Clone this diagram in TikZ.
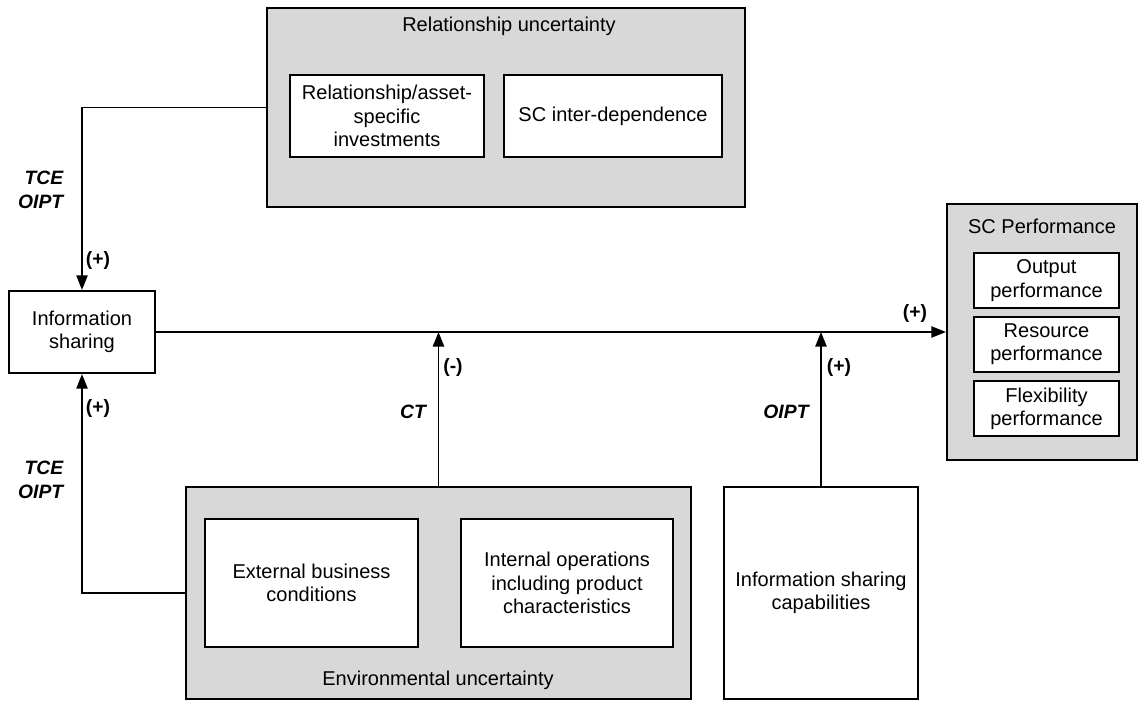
\documentclass[tikz,border=0pt]{standalone}
\usepackage{fontspec}
\setmainfont{Liberation Sans}
\usepackage{tikz}
\usepackage{xcolor}
\usetikzlibrary{positioning, arrows.meta}
\definecolor{boxgray}{RGB}{216,216,216}
\tikzset{
  group/.style={draw, fill=boxgray, line width=1.6pt, inner sep=0pt},
  item/.style={draw, fill=white, line width=1.6pt, inner sep=0pt, align=center,
    font=\fontsize{15}{17.5}\selectfont},
  txt/.style={font=\fontsize{15}{17.5}\selectfont, align=center},
  conn/.style={line width=1.2pt, -{Triangle[length=11pt,width=8.5pt]}},
  sign/.style={font=\fontsize{14.5}{17}\selectfont\bfseries},
  theory/.style={font=\fontsize{14.5}{18}\selectfont\bfseries\itshape, align=right}
}

\begin{document}
\begin{tikzpicture}[x=0.75pt,y=-0.75pt]
\useasboundingbox (0,0) rectangle (1139,700);

% relationship uncertainty
\node[group, minimum width=358.5pt, minimum height=149.25pt] (rel) at (506,107.5) {};
\node[txt] (reltitle) at (509,26) {Relationship uncertainty};
\node[item, minimum width=145.5pt, minimum height=61.5pt] (asset) at (387,116)
  {Relationship/asset-\\specific\\investments};
\node[item, minimum width=163.5pt, minimum height=61.5pt] (interdep) at (613,116)
  {SC inter-dependence};

% information sharing
\node[item, minimum width=109.5pt, minimum height=61.5pt] (info) at (82,332)
  {Information\\sharing};

% environmental uncertainty
\node[group, minimum width=378.75pt, minimum height=159pt] (env) at (438.5,593) {};
\node[item, minimum width=159.75pt, minimum height=96pt] (extern) at (311.5,583)
  {External business\\conditions};
\node[item, minimum width=159pt, minimum height=96pt] (intern) at (567,583)
  {Internal operations\\including product\\characteristics};
\node[txt] (envtitle) at (438,680) {Environmental uncertainty};

% capabilities
\node[item, minimum width=145.5pt, minimum height=159pt] (cap) at (821,593)
  {Information sharing\\capabilities};

% SC performance
\node[group, minimum width=142.5pt, minimum height=192pt] (perf) at (1042,332) {};
\node[txt] (perftitle) at (1042,226) {SC Performance};
\node[item, minimum width=108.75pt, minimum height=41.25pt] (output) at (1046.5,280.5)
  {Output\\performance};
\node[item, minimum width=108.75pt, minimum height=41.25pt] (resource) at (1046.5,344.5)
  {Resource\\performance};
\node[item, minimum width=108.75pt, minimum height=41.25pt] (flex) at (1046.5,408.5)
  {Flexibility\\performance};

% connectors
\coordinate (ctjoin) at (env.north |- info.east);
\coordinate (capjoin) at (cap.north |- info.east);
\draw[conn] (rel.west) -| (info.north);
\draw[conn] (env.west) -| (info.south);
\draw[conn] (info.east) -- (info.east -| perf.west);
\draw[conn] (env.north) -- (ctjoin);
\draw[conn] (cap.north) -- (capjoin);

% labels
\node[theory, anchor=east] (tceup) at (68,190) {TCE\\OIPT};
\node[sign] (plusup) at (98,260) {(+)};
\node[sign] (plusdown) at (98,408) {(+)};
\node[theory, anchor=east] (tcedown) at (68,480) {TCE\\OIPT};
\node[sign] (minusct) at (453,367) {(-)};
\node[theory] (ct) at (413,412) {CT};
\node[sign] (pluscap) at (839,367) {(+)};
\node[theory] (oipt) at (786,412) {OIPT};
\node[sign] (plusperf) at (915,313) {(+)};
\end{tikzpicture}
\end{document}
